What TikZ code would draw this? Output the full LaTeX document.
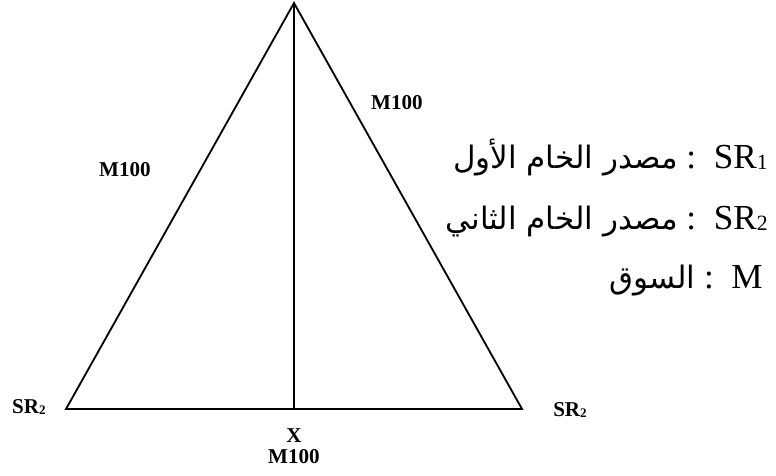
\documentclass[tikz,border=0pt]{standalone}
\usepackage{fontspec}
\setmainfont{Liberation Serif}
\newfontfamily\arabicfont[Script=Arabic]{DejaVu Sans}
\TeXXeTstate=1
\usepackage{graphicx}
\usepackage{tikz}
\usetikzlibrary{positioning}

\newcommand{\sbs}[1]{\raisebox{-0.12ex}{\scalebox{0.62}{#1}}}
\newcommand{\ar}[1]{{\fontsize{22}{26}\selectfont\arabicfont\beginR #1\endR}}

\begin{document}
\begin{tikzpicture}[
    x=0.025cm, y=-0.025cm,
    lbl/.style={font=\fontsize{15}{18}\selectfont\bfseries, inner sep=0pt},
    key/.style={font=\fontsize{25}{29}\selectfont, anchor=base east, inner sep=0pt},
    side/.style={line width=1.3pt, line join=miter}
]
\useasboundingbox (0,0) rectangle (776,475);

% triangle
\coordinate (apex) at (294,3);
\coordinate (bl) at (66,409);
\coordinate (br) at (522,409);
\coordinate (foot) at (294,409);
\draw[side] (apex) -- (bl) -- (br) -- cycle;
\draw[side] (apex) -- (foot);

% corner and side labels
\node[lbl] (srleft) at (29,407) {SR\sbs{2}};
\node[lbl] (srright) at (570,410) {SR\sbs{2}};
\node[lbl] (mleft) at (125,170) {M100};
\node[lbl] (mright) at (397,103) {M100};
\node[lbl] (x) at (294,436) {X};
\node[lbl, below=4pt of x] (mbottom) {M100};

% legend
\node[key] (key1) at (768,168) {\ar{مصدر الخام الأول} :\, SR\sbs{1}};
\node[key] (key2) at (768,229) {\ar{مصدر الخام الثاني} :\, SR\sbs{2}};
\node[key] (key3) at (763,288) {\ar{السوق} :\, M};
\end{tikzpicture}
\end{document}
